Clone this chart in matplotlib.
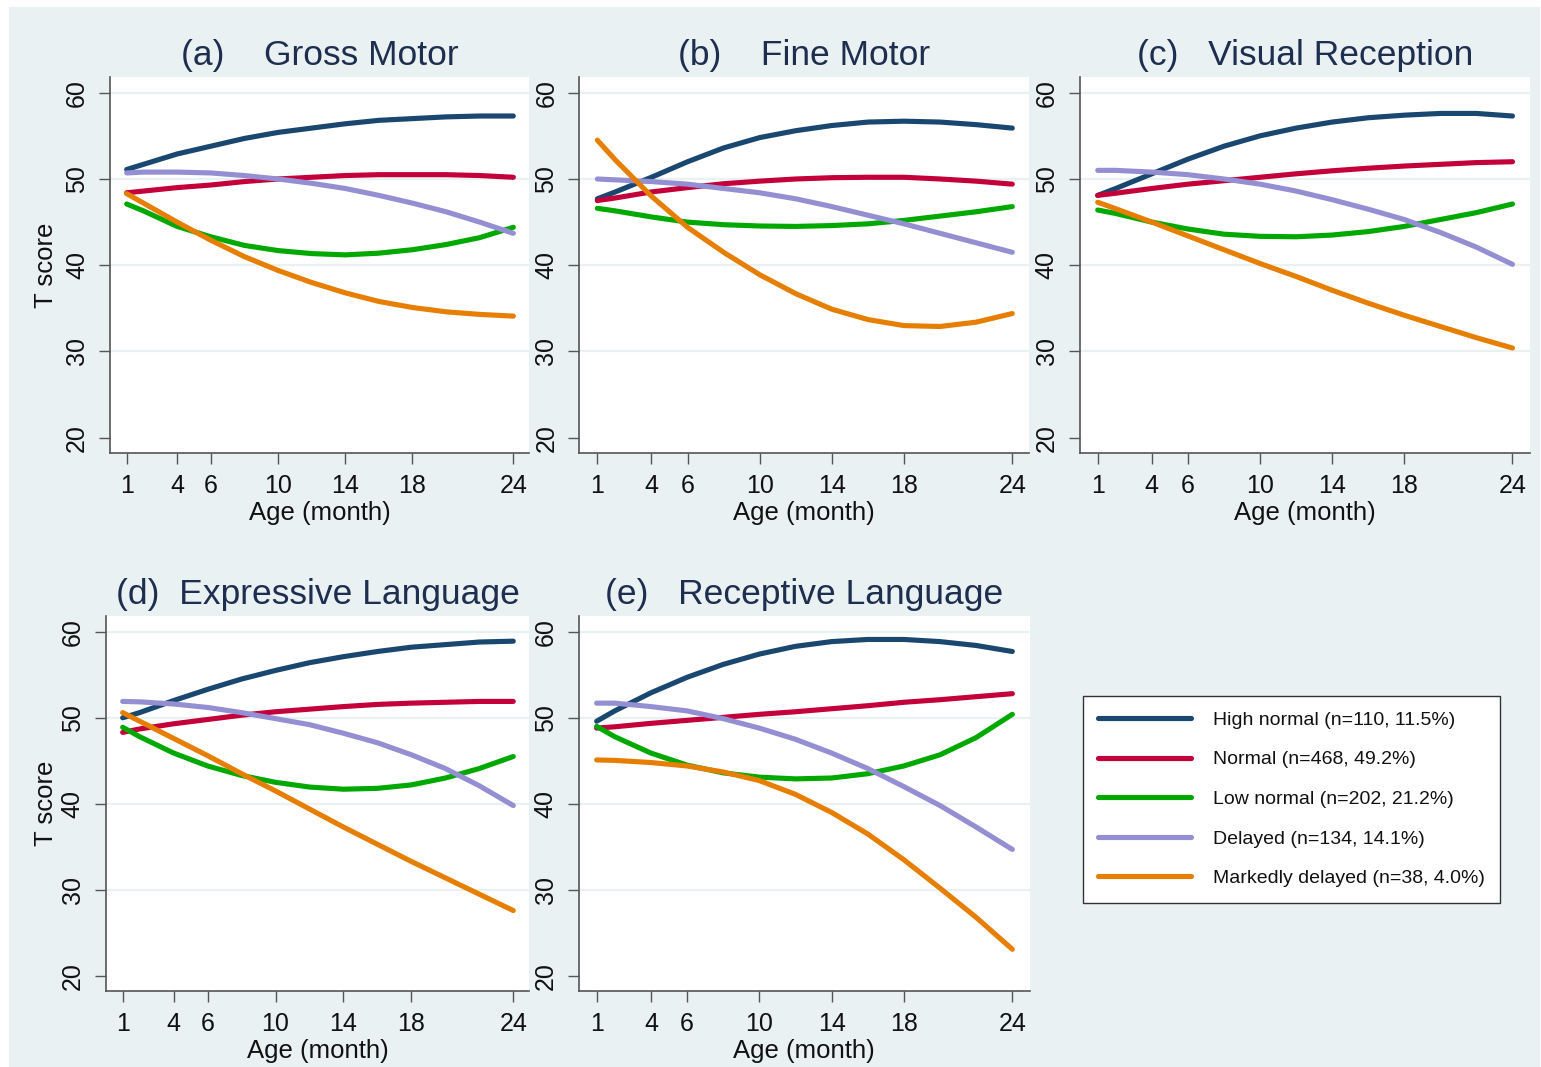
import matplotlib
matplotlib.use("Agg")
import matplotlib.pyplot as plt
from matplotlib.patches import Rectangle

plt.rcParams['font.family'] = ['Liberation Sans', 'DejaVu Sans']

age = [1, 2, 4, 6, 8, 10, 12, 14, 16, 18, 20, 22, 24]
age_ticks = [1, 4, 6, 10, 14, 18, 24]
score_ticks = [20, 30, 40, 50, 60]

groups = ["High normal (n=110, 11.5%)", "Normal (n=468, 49.2%)",
          "Low normal (n=202, 21.2%)", "Delayed (n=134, 14.1%)",
          "Markedly delayed (n=38, 4.0%)"]
colors = ["#1a476f", "#c4003a", "#00a800", "#948fd3", "#e67e00"]

# T scores per group: high normal, normal, low normal, delayed, markedly delayed
gross_motor = [
    [51.1, 51.7, 52.9, 53.8, 54.7, 55.4, 55.9, 56.4, 56.8, 57.0, 57.2, 57.3, 57.3],
    [48.4, 48.6, 49.0, 49.3, 49.7, 50.0, 50.2, 50.4, 50.5, 50.5, 50.5, 50.4, 50.2],
    [47.1, 46.3, 44.5, 43.3, 42.3, 41.7, 41.35, 41.2, 41.4, 41.8, 42.4, 43.2, 44.4],
    [50.7, 50.8, 50.8, 50.7, 50.4, 50.0, 49.5, 48.9, 48.1, 47.2, 46.2, 45.0, 43.7],
    [48.3, 47.2, 45.0, 42.9, 41.0, 39.4, 38.0, 36.8, 35.8, 35.1, 34.6, 34.3, 34.1],
]
fine_motor = [
    [47.7, 48.5, 50.2, 52.0, 53.6, 54.8, 55.6, 56.2, 56.6, 56.7, 56.6, 56.3, 55.9],
    [47.5, 47.8, 48.5, 49.0, 49.45, 49.75, 50.0, 50.15, 50.2, 50.2, 50.0, 49.75, 49.4],
    [46.6, 46.3, 45.6, 45.0, 44.7, 44.55, 44.5, 44.6, 44.8, 45.2, 45.7, 46.2, 46.8],
    [50.0, 49.9, 49.7, 49.4, 48.9, 48.4, 47.7, 46.8, 45.8, 44.8, 43.7, 42.6, 41.5],
    [54.5, 52.2, 48.0, 44.4, 41.5, 38.9, 36.7, 34.9, 33.7, 33.0, 32.9, 33.4, 34.4],
]
visual_reception = [
    [48.1, 48.9, 50.6, 52.3, 53.8, 55.0, 55.9, 56.6, 57.1, 57.4, 57.6, 57.6, 57.3],
    [48.1, 48.35, 48.9, 49.4, 49.8, 50.2, 50.6, 50.95, 51.25, 51.5, 51.7, 51.9, 52.0],
    [46.4, 46.0, 45.0, 44.2, 43.6, 43.35, 43.3, 43.5, 43.9, 44.5, 45.3, 46.1, 47.1],
    [51.0, 51.0, 50.8, 50.5, 50.0, 49.4, 48.6, 47.6, 46.5, 45.3, 43.8, 42.1, 40.1],
    [47.3, 46.55, 45.0, 43.4, 41.8, 40.2, 38.7, 37.1, 35.6, 34.2, 32.9, 31.6, 30.4],
]
expressive_language = [
    [50.0, 50.6, 52.0, 53.3, 54.5, 55.5, 56.4, 57.1, 57.7, 58.2, 58.5, 58.8, 58.9],
    [48.3, 48.7, 49.3, 49.8, 50.3, 50.7, 51.0, 51.3, 51.55, 51.7, 51.8, 51.9, 51.9],
    [48.9, 47.8, 45.9, 44.4, 43.3, 42.5, 41.95, 41.7, 41.8, 42.2, 43.0, 44.1, 45.5],
    [51.9, 51.85, 51.6, 51.2, 50.6, 49.9, 49.2, 48.2, 47.1, 45.7, 44.1, 42.1, 39.8],
    [50.6, 49.6, 47.6, 45.6, 43.5, 41.5, 39.4, 37.3, 35.3, 33.3, 31.4, 29.5, 27.6],
]
receptive_language = [
    [49.6, 50.8, 52.9, 54.7, 56.2, 57.4, 58.3, 58.85, 59.1, 59.1, 58.85, 58.4, 57.7],
    [48.8, 48.95, 49.35, 49.7, 50.05, 50.4, 50.7, 51.05, 51.4, 51.8, 52.1, 52.45, 52.8],
    [49.0, 47.8, 45.9, 44.5, 43.6, 43.1, 42.9, 43.0, 43.5, 44.4, 45.7, 47.7, 50.4],
    [51.7, 51.7, 51.3, 50.8, 49.9, 48.8, 47.5, 45.9, 44.1, 42.0, 39.8, 37.3, 34.7],
    [45.1, 45.05, 44.8, 44.4, 43.7, 42.7, 41.1, 39.0, 36.5, 33.5, 30.2, 26.8, 23.1],
]

titles = ["(a)    Gross Motor", "(b)    Fine Motor", "(c)   Visual Reception",
          "(d)  Expressive Language", "(e)   Receptive Language"]
panels = [gross_motor, fine_motor, visual_reception, expressive_language, receptive_language]

W, H = 1541, 1067
BG = "#eaf1f3"
TITLE_COLOR = "#1e2e4e"
AXIS_COLOR = "#555555"

fig = plt.figure(figsize=(W / 100, H / 100), dpi=100, facecolor="white")
fig.patches.append(Rectangle((9 / W, 0), (1540 - 9) / W, 1 - 7 / H,
                             transform=fig.transFigure, facecolor=BG,
                             edgecolor="none", zorder=-10))

# axes boxes in pixels: left, right, top, bottom
boxes = [
    (109.9, 529.3, 77.3, 453.0),
    (579.3, 1029.4, 77.3, 453.0),
    (1079.7, 1529.6, 77.3, 453.0),
    (105.7, 529.4, 616.3, 991.2),
    (578.6, 1029.5, 616.3, 991.2),
]


def px_axes(l, r, t, b):
    return fig.add_axes([l / W, 1 - b / H, (r - l) / W, (b - t) / H])


axes = []
for i, (data, title, box) in enumerate(zip(panels, titles, boxes)):
    ax = px_axes(*box)
    axes.append(ax)
    ax.set_facecolor("white")
    for g in [30, 40, 50, 60]:
        ax.axhline(g, color=BG, lw=1.6, zorder=0)
    for series, c, name in zip(data, colors, groups):
        ax.plot(age, series, color=c, lw=3.7, solid_capstyle="round",
                solid_joinstyle="round", label=name, zorder=3)
    ax.set_xlim(0, 24.95)
    ax.set_ylim(18.23, 61.79)
    ax.set_xticks(age_ticks)
    ax.set_yticks(score_ticks)
    ax.tick_params(axis="both", direction="out", length=8, width=1.0,
                   color=AXIS_COLOR, labelsize=18, labelcolor="#111111")
    ax.tick_params(axis="x", pad=7)
    ax.tick_params(axis="y", pad=7)
    for lab in ax.get_yticklabels():
        lab.set_rotation(90)
        lab.set_va("center")
    for side in ["top", "right"]:
        ax.spines[side].set_visible(False)
    for side in ["left", "bottom"]:
        ax.spines[side].set_color(AXIS_COLOR)
        ax.spines[side].set_linewidth(1.2)
    ax.set_title(title, fontsize=25.5, color=TITLE_COLOR, pad=9)
    ax.set_xlabel("Age (month)", fontsize=18.5, color="#111111", labelpad=2)
    if i in (0, 3):
        ax.set_ylabel("T score", fontsize=18.5, color="#111111")
        l, r = box[0], box[1]
        ax.yaxis.set_label_coords((58 - l) / (r - l), 0.5)

handles, labels = axes[0].get_legend_handles_labels()
leg = fig.legend(handles, labels, loc="upper left",
                 bbox_to_anchor=(1082.7 / W, 1 - 695.7 / H),
                 fontsize=14, handlelength=4.78, handletextpad=1.12,
                 borderpad=0.8, labelspacing=1.13, borderaxespad=0,
                 fancybox=False, framealpha=1, edgecolor="#333333")
leg.get_frame().set_linewidth(1.0)
for t in leg.get_texts():
    t.set_color("#111111")

fig.savefig("out.png", dpi=100, facecolor="white")
